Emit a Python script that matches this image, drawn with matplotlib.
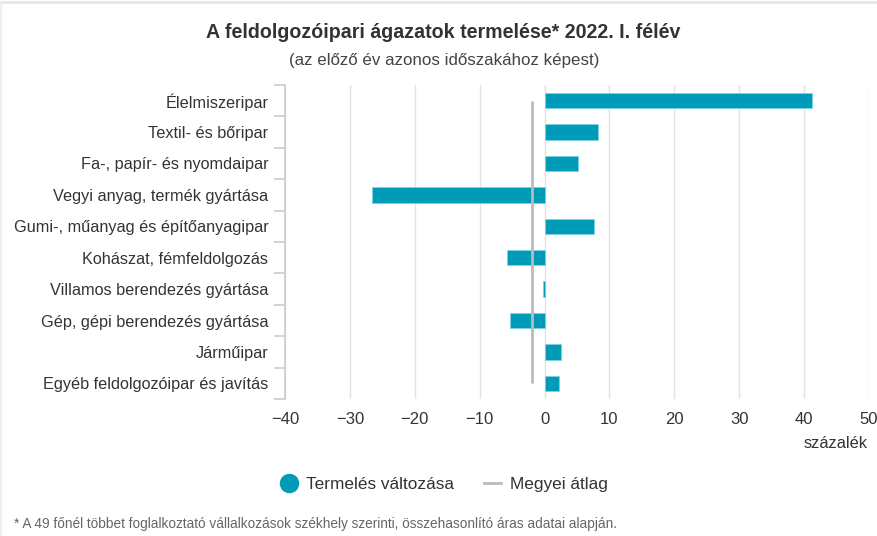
import matplotlib
matplotlib.use("Agg")
import matplotlib.pyplot as plt
from matplotlib.lines import Line2D

plt.rcParams['font.family'] = ['Liberation Sans', 'DejaVu Sans']

categories = ["Élelmiszeripar", "Textil- és bőripar", "Fa-, papír- és nyomdaipar",
              "Vegyi anyag, termék gyártása", "Gumi-, műanyag és építőanyagipar",
              "Kohászat, fémfeldolgozás", "Villamos berendezés gyártása",
              "Gép, gépi berendezés gyártása", "Járműipar",
              "Egyéb feldolgozóipar és javítás"]
values = [41.2, 8.3, 5.1, -26.6, 7.6, -5.8, -0.2, -5.4, 2.5, 2.3]
county_avg = -1.9
xticks = [-40, -30, -20, -10, 0, 10, 20, 30, 40, 50]

bar_color = "#009bb9"
W, H = 877, 536
fig = plt.figure(figsize=(W/100, H/100), dpi=100)
ax = fig.add_axes([285/W, 1-399/H, (869-285)/W, (399-85)/H])

y = list(range(len(categories)))
ax.barh(y, values, height=0.49, color=bar_color, edgecolor="#7fd3e3", linewidth=0.6, zorder=3)
ax.plot([county_avg, county_avg], [0, len(categories)-1], color="#bbbbbb", lw=2, zorder=4,
        solid_capstyle='butt')

ax.set_xlim(-40, 50)
ax.set_ylim(len(categories)-0.5, -0.5)
ax.set_xticks(xticks)
ax.set_xticklabels([("\u2212" + str(-t)) if t < 0 else str(t) for t in xticks],
                   fontsize=12, color="#333333")
ax.tick_params(axis='x', length=0, pad=9)
ax.set_yticks(y)
ax.set_yticklabels(categories, fontsize=11.7, color="#333333")
ax.set_yticks([i + 0.5 for i in range(-1, len(categories))], minor=True)
ax.tick_params(axis='y', which='major', length=0, pad=12)
ax.tick_params(axis='y', which='minor', length=8, color="#cccccc", width=1.2)
ax.grid(axis='x', color="#e3e3e3", lw=1, zorder=0)
for s in ['top', 'right', 'bottom']:
    ax.spines[s].set_visible(False)
ax.spines['left'].set_color("#cccccc")
ax.spines['left'].set_linewidth(1.2)

fig.text(868/W, 1-443/H, "százalék", ha='right', va='center', fontsize=11.8, color="#333333")

fig.text(443/W, 1-32/H, "A feldolgozóipari ágazatok termelése* 2022. I. félév",
         ha='center', va='center', fontsize=14.1, fontweight='bold', color="#333333")
fig.text(444/W, 1-60/H, "(az előző év azonos időszakához képest)",
         ha='center', va='center', fontsize=12.2, color="#444444")

# legend
handles = [Line2D([], [], marker='o', ls='none', color=bar_color, markersize=13),
           Line2D([], [], color="#bbbbbb", lw=2)]
leg = fig.legend(handles, ["Termelés változása", "Megyei átlag"], loc='center',
                 bbox_to_anchor=(444/W, 1-484/H), ncol=2, frameon=False, fontsize=12.4,
                 handlelength=1.0, handletextpad=0.5, columnspacing=1.7)
for t in leg.get_texts():
    t.set_color("#333333")

fig.text(14/W, 1-524/H,
         "* A 49 főnél többet foglalkoztató vállalkozások székhely szerinti, összehasonlító áras adatai alapján.",
         ha='left', va='center', fontsize=9.8, color="#666666")

fig.add_artist(Line2D([0, 1], [1-2/H, 1-2/H], transform=fig.transFigure, color="#e6e6e6", lw=2))
fig.add_artist(Line2D([1/W, 1/W], [0, 1-2/H], transform=fig.transFigure, color="#eeeeee", lw=1.5))

fig.savefig("out.png", dpi=100)
